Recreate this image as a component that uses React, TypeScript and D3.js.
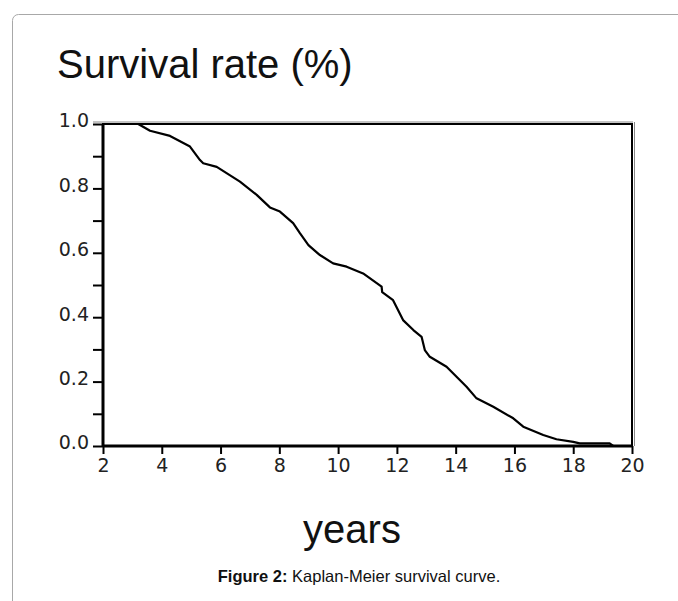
import React, { useEffect, useRef } from "react";
import * as d3 from "d3";

// curve (years, survival proportion)
const years = [
  2, 3.2, 3.6, 4.28, 4.96, 5.3, 5.41, 5.87, 6.66, 7.23, 7.68, 8.02, 8.47, 8.7,
  8.99, 9.38, 9.83, 10.29, 10.85, 11.48, 11.5, 11.87, 12.21, 12.56, 12.84,
  12.95, 13.12, 13.69, 14.03, 14.37, 14.71, 15.28, 15.96, 16.3, 16.98, 17.43,
  18.0, 18.22, 19.24, 19.36, 20,
];
const survival = [
  1, 1, 0.979, 0.963, 0.93, 0.888, 0.878, 0.867, 0.821, 0.78, 0.741, 0.728,
  0.692, 0.661, 0.624, 0.593, 0.567, 0.557, 0.536, 0.495, 0.478, 0.453, 0.391,
  0.36, 0.339, 0.298, 0.277, 0.246, 0.215, 0.184, 0.148, 0.122, 0.086, 0.06,
  0.034, 0.021, 0.013, 0.008, 0.008, 0.0, 0.0,
];
const xTicks = [2, 4, 6, 8, 10, 12, 14, 16, 18, 20];
const yTicks = [0, 0.1, 0.2, 0.3, 0.4, 0.5, 0.6, 0.7, 0.8, 0.9, 1.0];

const App = () => {
  const svgRef = useRef<SVGSVGElement>(null);

  useEffect(() => {
    const width = 678;
    const height = 601;
    const left = 103;
    const right = 632;
    const top = 124;
    const bottom = 446;

    const svg = d3.select(svgRef.current);
    svg.selectAll("*").remove();

    // card border
    svg
      .append("rect")
      .attr("x", 12.5)
      .attr("y", 14.5)
      .attr("width", 720)
      .attr("height", 640)
      .attr("rx", 6)
      .attr("fill", "#fff")
      .attr("stroke", "#a8a8a8")
      .attr("stroke-width", 1);

    const x = d3.scaleLinear().domain([2, 20]).range([left, right]);
    const y = d3.scaleLinear().domain([0, 1]).range([bottom, top]);

    // title
    svg
      .append("text")
      .attr("x", 57)
      .attr("y", 78)
      .attr("font-family", "Liberation Sans, Arial, sans-serif")
      .attr("font-size", 40)
      .attr("fill", "#111")
      .text("Survival rate (%)");

    // y axis
    svg
      .append("g")
      .attr("transform", `translate(${left},0)`)
      .call(
        d3
          .axisLeft(y)
          .tickValues(yTicks)
          .tickSize(10)
          .tickPadding(4)
          .tickFormat((d, i) => (i % 2 === 0 ? d3.format(".1f")(d as number) : ""))
      )
      .call((g) => g.select(".domain").remove())
      .call((g) => g.selectAll("line").attr("stroke", "#000").attr("stroke-width", 2))
      .call((g) =>
        g
          .selectAll("text")
          .attr("font-family", "DejaVu Sans, Verdana, sans-serif")
          .attr("font-size", 19)
          .attr("fill", "#222")
          .attr("dy", "0.15em")
      );

    // x axis
    svg
      .append("g")
      .attr("transform", `translate(0,${bottom})`)
      .call(
        d3
          .axisBottom(x)
          .tickValues(xTicks)
          .tickSize(8)
          .tickPadding(5)
          .tickFormat(d3.format("d"))
      )
      .call((g) => g.select(".domain").remove())
      .call((g) => g.selectAll("line").attr("stroke", "#000").attr("stroke-width", 2))
      .call((g) =>
        g
          .selectAll("text")
          .attr("font-family", "DejaVu Sans, Verdana, sans-serif")
          .attr("font-size", 19)
          .attr("fill", "#222")
      );

    // frame
    svg
      .append("line")
      .attr("x1", left - 10)
      .attr("x2", right + 1)
      .attr("y1", top - 2)
      .attr("y2", top - 2)
      .attr("stroke", "#888")
      .attr("stroke-width", 1);
    svg
      .append("line")
      .attr("x1", right + 2.5)
      .attr("x2", right + 2.5)
      .attr("y1", top - 2)
      .attr("y2", bottom)
      .attr("stroke", "#888")
      .attr("stroke-width", 1);
    svg
      .append("rect")
      .attr("x", left)
      .attr("y", top)
      .attr("width", right - left)
      .attr("height", bottom - top)
      .attr("fill", "none")
      .attr("stroke", "#000")
      .attr("stroke-width", 2);
    svg
      .append("line")
      .attr("x1", left)
      .attr("x2", left)
      .attr("y1", top)
      .attr("y2", bottom)
      .attr("stroke", "#000")
      .attr("stroke-width", 3);
    svg
      .append("line")
      .attr("x1", left)
      .attr("x2", right)
      .attr("y1", bottom)
      .attr("y2", bottom)
      .attr("stroke", "#000")
      .attr("stroke-width", 3);

    // survival curve
    const pts = years.map((d, i) => [d, survival[i]] as [number, number]);
    const line = d3
      .line<[number, number]>()
      .x((d) => x(d[0]))
      .y((d) => y(d[1]));
    svg
      .append("path")
      .datum(pts)
      .attr("d", line)
      .attr("fill", "none")
      .attr("stroke", "#000")
      .attr("stroke-width", 2.2)
      .attr("stroke-linejoin", "round");

    // x label
    svg
      .append("text")
      .attr("x", 352)
      .attr("y", 543)
      .attr("text-anchor", "middle")
      .attr("font-family", "Liberation Sans, Arial, sans-serif")
      .attr("font-size", 40)
      .attr("fill", "#111")
      .text("years");

    // caption
    const cap = svg
      .append("text")
      .attr("x", 359)
      .attr("y", 582)
      .attr("text-anchor", "middle")
      .attr("font-family", "Liberation Sans, Arial, sans-serif")
      .attr("font-size", 16.5)
      .attr("fill", "#111");
    cap.append("tspan").attr("font-weight", "bold").text("Figure 2:");
    cap.append("tspan").text(" Kaplan-Meier survival curve.");

    svg.attr("width", width).attr("height", height);
  }, []);

  return (
    <svg
      ref={svgRef}
      width={678}
      height={601}
      style={{ position: "absolute", left: 0, top: 0, background: "#fff" }}
    />
  );
};

export default App;
